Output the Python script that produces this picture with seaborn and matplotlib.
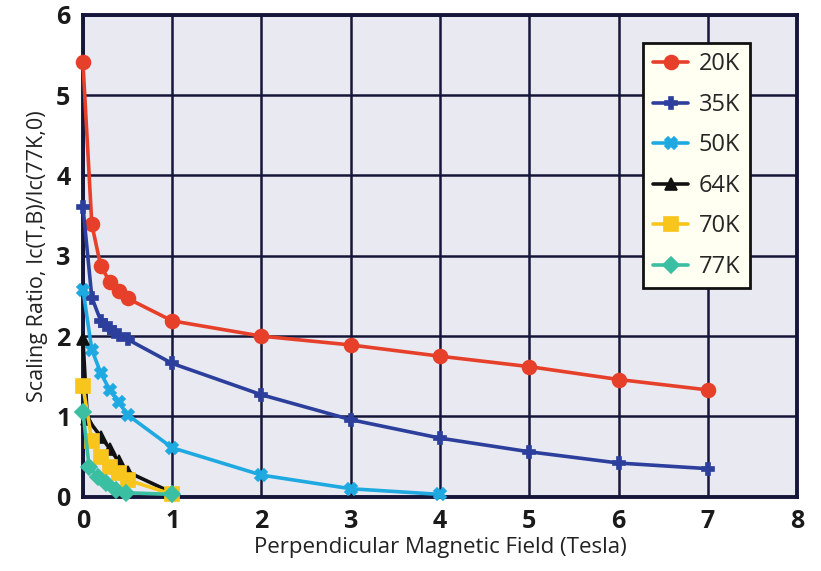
import matplotlib
matplotlib.use("Agg")
import matplotlib.pyplot as plt
import seaborn as sns
import pandas as pd

# Field values (Tesla) and Ic scaling ratios for each temperature
b_20k = [0, 0.1, 0.2, 0.3, 0.4, 0.5, 1, 2, 3, 4, 5, 6, 7]
r_20k = [5.41, 3.39, 2.87, 2.68, 2.56, 2.47, 2.19, 2.0, 1.89, 1.75, 1.62, 1.46, 1.33]

b_35k = [0, 0.1, 0.2, 0.25, 0.3, 0.35, 0.4, 0.5, 1, 2, 3, 4, 5, 6, 7]
r_35k = [3.61, 2.48, 2.19, 2.14, 2.1, 2.05, 2.02, 1.96, 1.66, 1.27, 0.96, 0.73, 0.56, 0.42, 0.35]

b_50k = [0, 0.1, 0.2, 0.3, 0.4, 0.5, 1, 2, 3, 4]
r_50k = [2.58, 1.83, 1.54, 1.33, 1.18, 1.02, 0.61, 0.27, 0.1, 0.03]

b_64k = [0, 0.05, 0.2, 0.3, 0.4, 0.5, 1]
r_64k = [1.96, 0.97, 0.75, 0.6, 0.44, 0.31, 0.05]

b_70k = [0, 0.1, 0.2, 0.3, 0.4, 0.5, 1]
r_70k = [1.38, 0.7, 0.49, 0.37, 0.3, 0.21, 0.03]

b_77k = [0, 0.07, 0.17, 0.26, 0.37, 0.48, 1]
r_77k = [1.06, 0.37, 0.25, 0.17, 0.09, 0.05, 0.03]

temps = ["20K", "35K", "50K", "64K", "70K", "77K"]
fields = [b_20k, b_35k, b_50k, b_64k, b_70k, b_77k]
ratios = [r_20k, r_35k, r_50k, r_64k, r_70k, r_77k]

x_ticks = [0, 1, 2, 3, 4, 5, 6, 7, 8]
y_ticks = [0, 1, 2, 3, 4, 5, 6]

rows = []
for t, bs, rs in zip(temps, fields, ratios):
    for b, r in zip(bs, rs):
        rows.append({"Field": b, "Ratio": r, "Temp": t})
df = pd.DataFrame(rows)

palette = {"20K": "#e6402b", "35K": "#2c3f9c", "50K": "#1fa9e1",
           "64K": "#111111", "70K": "#f7c51c", "77K": "#3bbfa3"}
markers = {"20K": "o", "35K": "P", "50K": "X", "64K": "^", "70K": "s", "77K": "D"}
marker_sizes = {"20K": 10, "35K": 9, "50K": 9, "64K": 9, "70K": 9.5, "77K": 8.5}

sns.set_theme(style="white")
plt.rcParams["font.family"] = ["Open Sans", "DejaVu Sans"]

fig = plt.figure(figsize=(8.21, 5.71), dpi=100)
ax = fig.add_axes([0.101, 0.13, 0.870, 0.844])
ax.set_facecolor("#e9e9f1")

sns.lineplot(data=df, x="Field", y="Ratio", hue="Temp", style="Temp",
             palette=palette, markers=markers, dashes=False, sort=False,
             linewidth=2.6, markersize=10, markeredgewidth=1.2, ax=ax,
             zorder=3, clip_on=False)

# Marker edges in the line colour, per-series marker size
for line, t in zip(ax.get_lines(), temps):
    line.set_markeredgecolor(line.get_color())
    line.set_markersize(marker_sizes[t])

ax.set_xlim(0, 8)
ax.set_ylim(0, 6)
ax.set_xticks(x_ticks)
ax.set_yticks(y_ticks)
ax.grid(True, color="#16163a", linewidth=1.8, zorder=0)
ax.set_axisbelow(True)
for s in ax.spines.values():
    s.set_color("#16163a")
    s.set_linewidth(2.8)
ax.tick_params(axis="both", which="major", direction="out", length=6,
               width=1.5, color="#16163a", labelsize=18, pad=3)
for lbl in ax.get_xticklabels() + ax.get_yticklabels():
    lbl.set_fontweight("bold")
    lbl.set_color("#1a1a1a")

ax.set_xlabel("Perpendicular Magnetic Field (Tesla)", fontsize=16, color="#222222", labelpad=2)
ax.set_ylabel("Scaling Ratio, Ic(T,B)/Ic(77K,0)", fontsize=15.5, color="#222222", labelpad=6)

leg = ax.legend(title=None, loc="upper right", bbox_to_anchor=(0.934, 0.942),
                fontsize=17, frameon=True, fancybox=False, handlelength=1.5,
                labelspacing=0.7, borderpad=0.4, handletextpad=0.45,
                borderaxespad=0.0, markerscale=1.0)
leg.get_frame().set_facecolor("#fffff2")
leg.get_frame().set_edgecolor("#111111")
leg.get_frame().set_linewidth(2.0)
leg.get_frame().set_alpha(1)
leg.set_zorder(5)
for h, t in zip(leg.legend_handles, temps):
    h.set_markeredgecolor(h.get_color())
    h.set_markersize(marker_sizes[t])

fig.savefig("out.png", dpi=100, facecolor="white")
